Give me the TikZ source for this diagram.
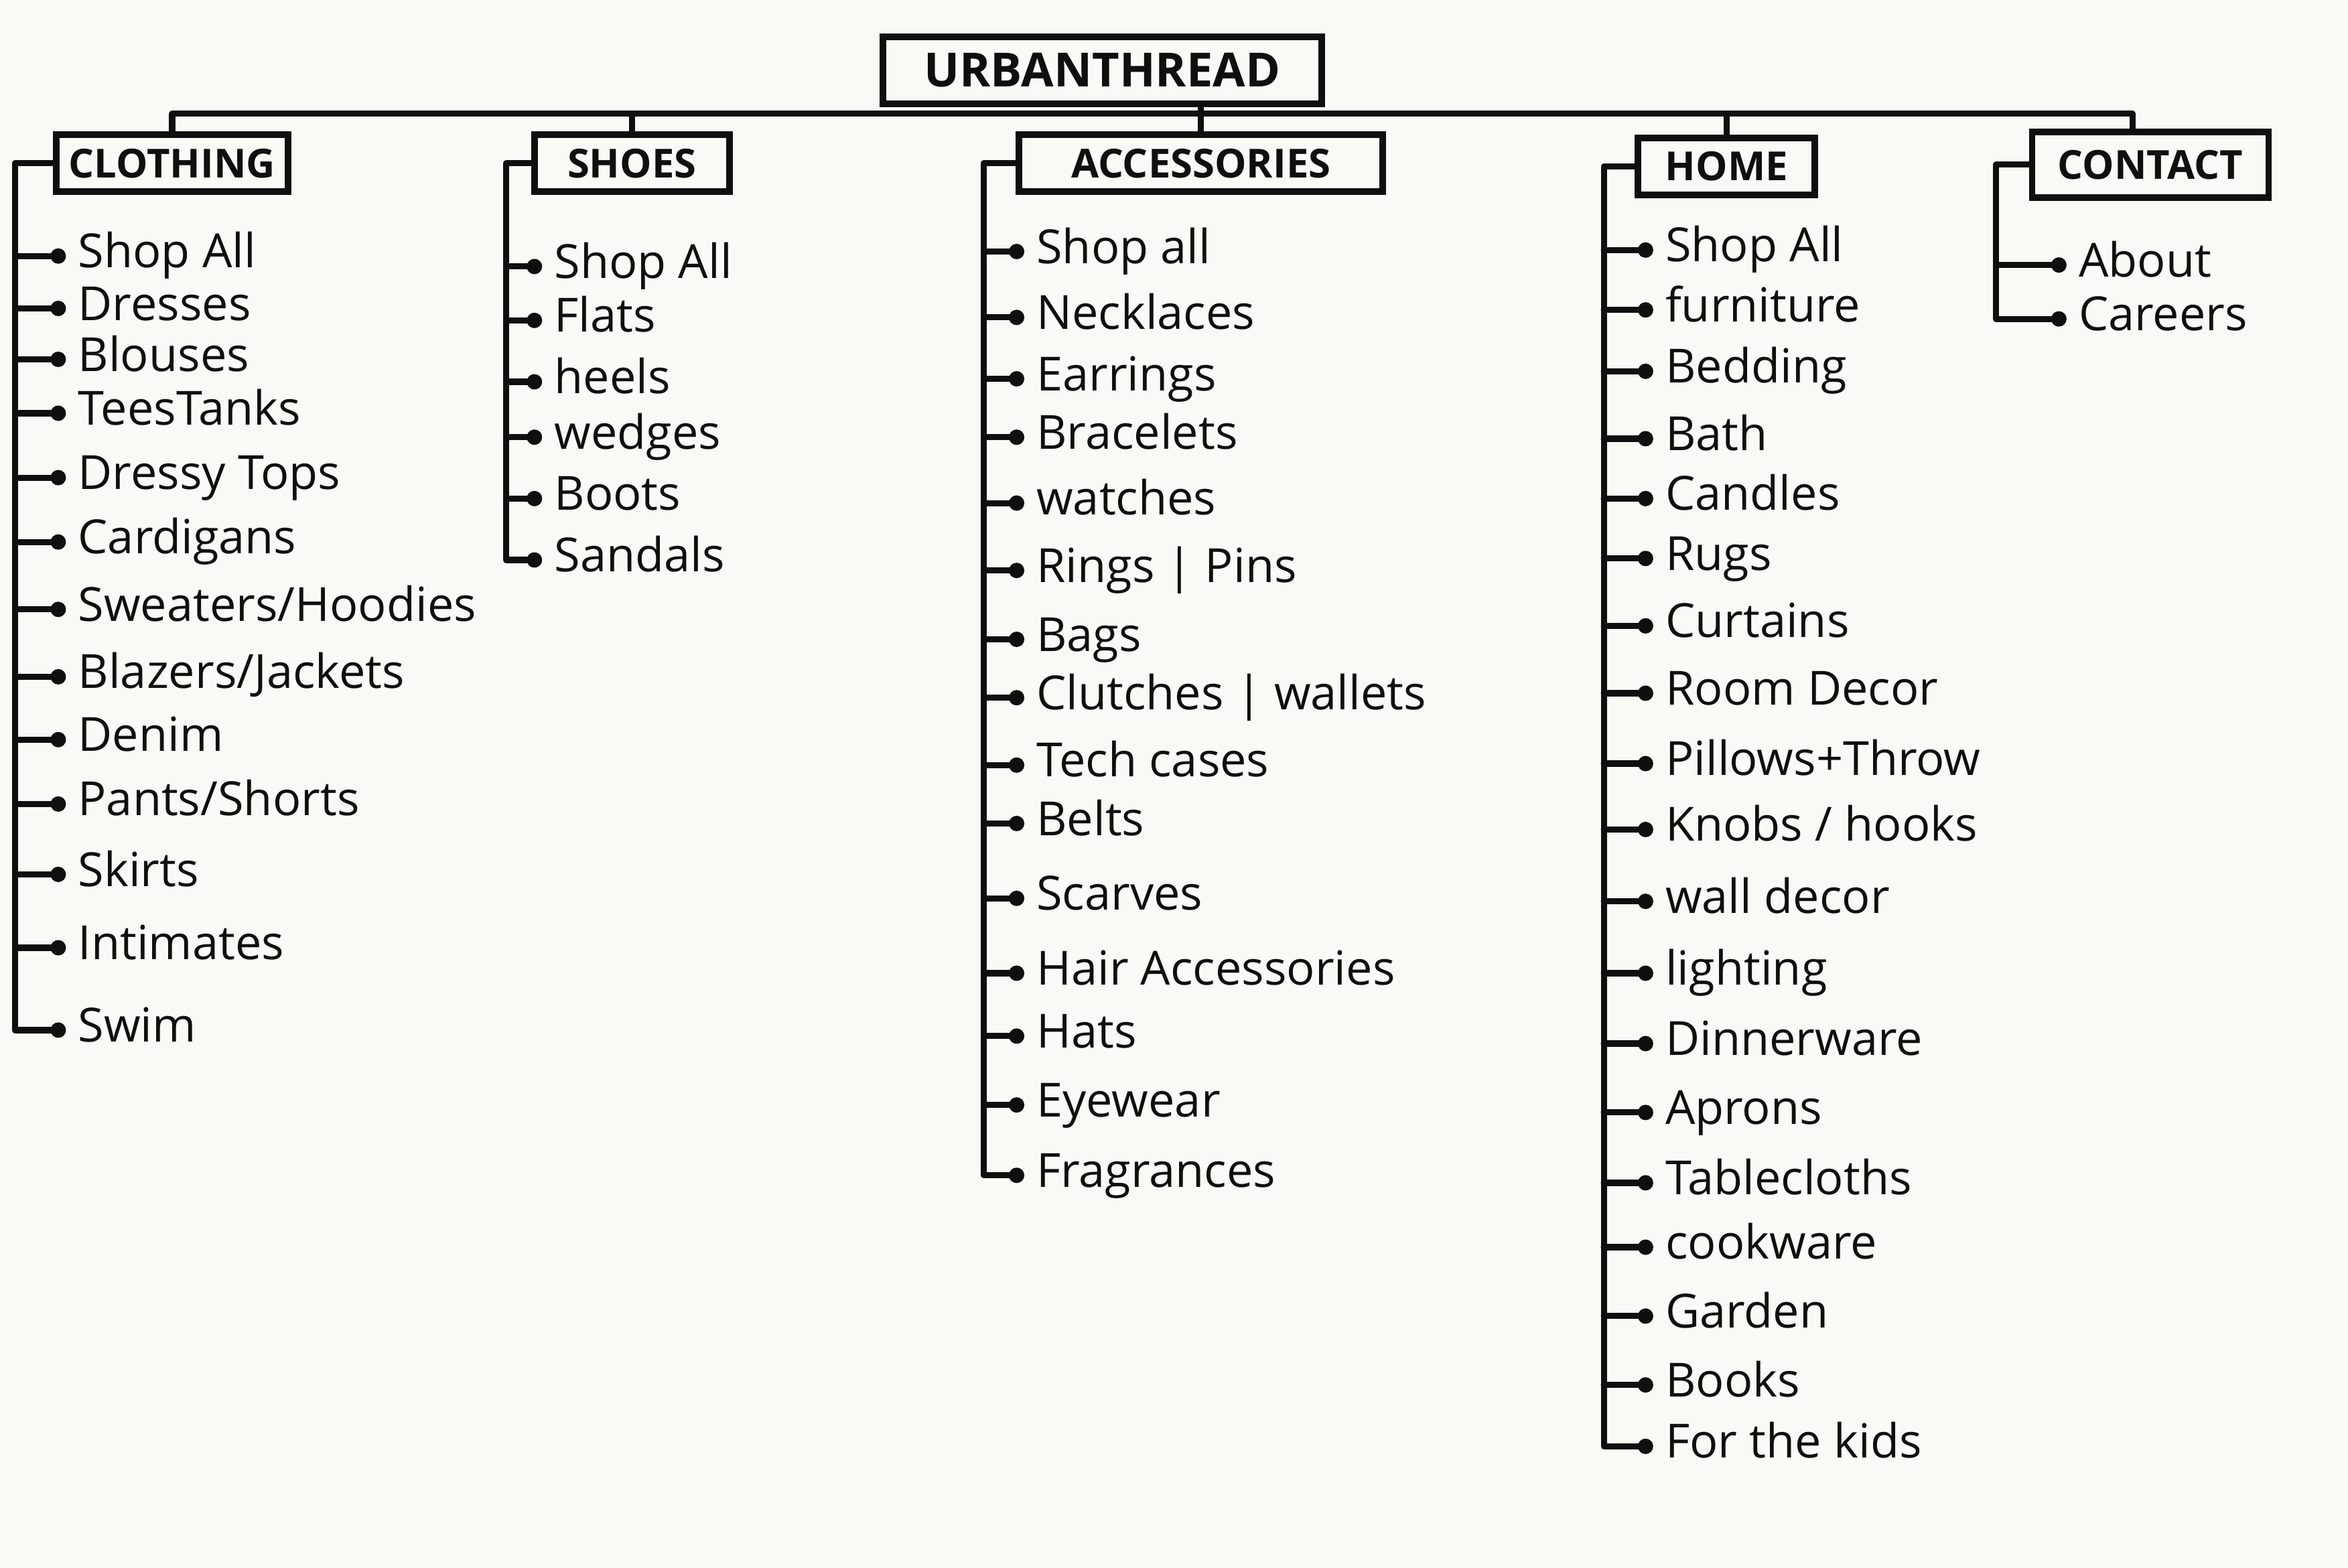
\documentclass[tikz,border=0pt]{standalone}
\usepackage{fontspec}
\setmainfont{Open Sans}
\usetikzlibrary{arrows.meta}
\definecolor{paper}{RGB}{249,249,245}
\definecolor{ink}{RGB}{15,15,15}

\begin{document}
\begin{tikzpicture}[
    x=0.022353cm, y=-0.022353cm,
    header/.style={draw=ink, line width=2.8pt, minimum height=0.85cm, inner sep=2pt,
                   text=ink, font=\fontsize{17}{19}\selectfont\bfseries},
    item/.style={anchor=west, inner sep=5pt, text height=12pt, text depth=2pt,
                 text=ink, font=\fontsize{20}{22}\selectfont},
    bar/.style={draw=ink, line width=2.6pt, line cap=round, line join=round},
    twig/.style={bar, -{Circle[length=6.5pt]}}
]

\fill[paper] (0,0) rectangle (1568,1047);

% --- Site and top navigation ---
\node[header, minimum width=6.55cm, minimum height=1cm, font=\fontsize{20}{22}\selectfont\bfseries] (root) at (736,47) {URBANTHREAD};
\node[header, minimum width=3.46cm] (clothing) at (115,109) {CLOTHING};
\node[header, minimum width=2.91cm] (shoes) at (422,109) {SHOES};
\node[header, minimum width=5.43cm] (acc) at (802,109) {ACCESSORIES};
\node[header, minimum width=2.64cm] (home) at (1153,111) {HOME};
\node[header, minimum width=3.53cm, minimum height=0.98cm] (contact) at (1436,110) {CONTACT};

\coordinate (bus) at (0,76);
\coordinate (bus-end) at (1424,76);
\draw[bar] (clothing.north) |- (bus-end) -- (bus-end |- contact.north);
\draw[bar] (acc.north |- root.south) -- (acc.north);
\draw[bar] (shoes.north |- bus) -- (shoes.north);
\draw[bar] (home.north |- bus) -- (home.north);

% --- Clothing ---
\node[item] (cl1) at (44,171) {Shop All};
\node[item] (cl2) at (44,206) {Dresses};
\node[item] (cl3) at (44,240) {Blouses};
\node[item] (cl4) at (44,276) {TeesTanks};
\node[item] (cl5) at (44,319) {Dressy Tops};
\node[item] (cl6) at (44,362) {Cardigans};
\node[item] (cl7) at (44,407) {Sweaters/Hoodies};
\node[item] (cl8) at (44,452) {Blazers/Jackets};
\node[item] (cl9) at (44,494) {Denim};
\node[item] (cl10) at (44,537) {Pants/Shorts};
\node[item] (cl11) at (44,584) {Skirts};
\node[item] (cl12) at (44,633) {Intimates};
\node[item] (cl13) at (44,688) {Swim};

\coordinate (cl-x) at (10,0);
\draw[twig] (clothing.west) -- (clothing.west -| cl-x) |- (cl13.west);
\foreach \i in {1,...,12}
    \draw[twig] (cl\i.west -| cl-x) -- (cl\i.west);

% --- Shoes ---
\node[item] (sh1) at (362,178) {Shop All};
\node[item] (sh2) at (362,214) {Flats};
\node[item] (sh3) at (362,255) {heels};
\node[item] (sh4) at (362,292) {wedges};
\node[item] (sh5) at (362,333) {Boots};
\node[item] (sh6) at (362,374) {Sandals};

\coordinate (sh-x) at (338,0);
\draw[twig] (shoes.west) -- (shoes.west -| sh-x) |- (sh6.west);
\foreach \i in {1,...,5}
    \draw[twig] (sh\i.west -| sh-x) -- (sh\i.west);

% --- Accessories ---
\node[item] (ac1) at (684,168) {Shop all};
\node[item] (ac2) at (684,212) {Necklaces};
\node[item] (ac3) at (684,253) {Earrings};
\node[item] (ac4) at (684,292) {Bracelets};
\node[item] (ac5) at (684,336) {watches};
\node[item] (ac6) at (684,381) {Rings | Pins};
\node[item] (ac7) at (684,427) {Bags};
\node[item] (ac8) at (684,466) {Clutches | wallets};
\node[item] (ac9) at (684,511) {Tech cases};
\node[item] (ac10) at (684,550) {Belts};
\node[item] (ac11) at (684,600) {Scarves};
\node[item] (ac12) at (684,650) {Hair Accessories};
\node[item] (ac13) at (684,692) {Hats};
\node[item] (ac14) at (684,738) {Eyewear};
\node[item] (ac15) at (684,785) {Fragrances};

\coordinate (ac-x) at (657,0);
\draw[twig] (acc.west) -- (acc.west -| ac-x) |- (ac15.west);
\foreach \i in {1,...,14}
    \draw[twig] (ac\i.west -| ac-x) -- (ac\i.west);

% --- Home ---
\node[item] (ho1) at (1104,167) {Shop All};
\node[item] (ho2) at (1104,207) {furniture};
\node[item] (ho3) at (1104,248) {Bedding};
\node[item] (ho4) at (1104,293) {Bath};
\node[item] (ho5) at (1104,333) {Candles};
\node[item] (ho6) at (1104,373) {Rugs};
\node[item] (ho7) at (1104,418) {Curtains};
\node[item] (ho8) at (1104,463) {Room Decor};
\node[item] (ho9) at (1104,510) {Pillows+Throw};
\node[item] (ho10) at (1104,554) {Knobs / hooks};
\node[item] (ho11) at (1104,602) {wall decor};
\node[item] (ho12) at (1104,650) {lighting};
\node[item] (ho13) at (1104,697) {Dinnerware};
\node[item] (ho14) at (1104,743) {Aprons};
\node[item] (ho15) at (1104,790) {Tablecloths};
\node[item] (ho16) at (1104,833) {cookware};
\node[item] (ho17) at (1104,879) {Garden};
\node[item] (ho18) at (1104,925) {Books};
\node[item] (ho19) at (1104,966) {For the kids};

\coordinate (ho-x) at (1071,0);
\draw[twig] (home.west) -- (home.west -| ho-x) |- (ho19.west);
\foreach \i in {1,...,18}
    \draw[twig] (ho\i.west -| ho-x) -- (ho\i.west);

% --- Contact ---
\node[item] (co1) at (1380,177) {About};
\node[item] (co2) at (1380,213) {Careers};

\coordinate (co-x) at (1333,0);
\draw[twig] (contact.west) -- (contact.west -| co-x) |- (co2.west);
\draw[twig] (co1.west -| co-x) -- (co1.west);

\end{tikzpicture}
\end{document}
